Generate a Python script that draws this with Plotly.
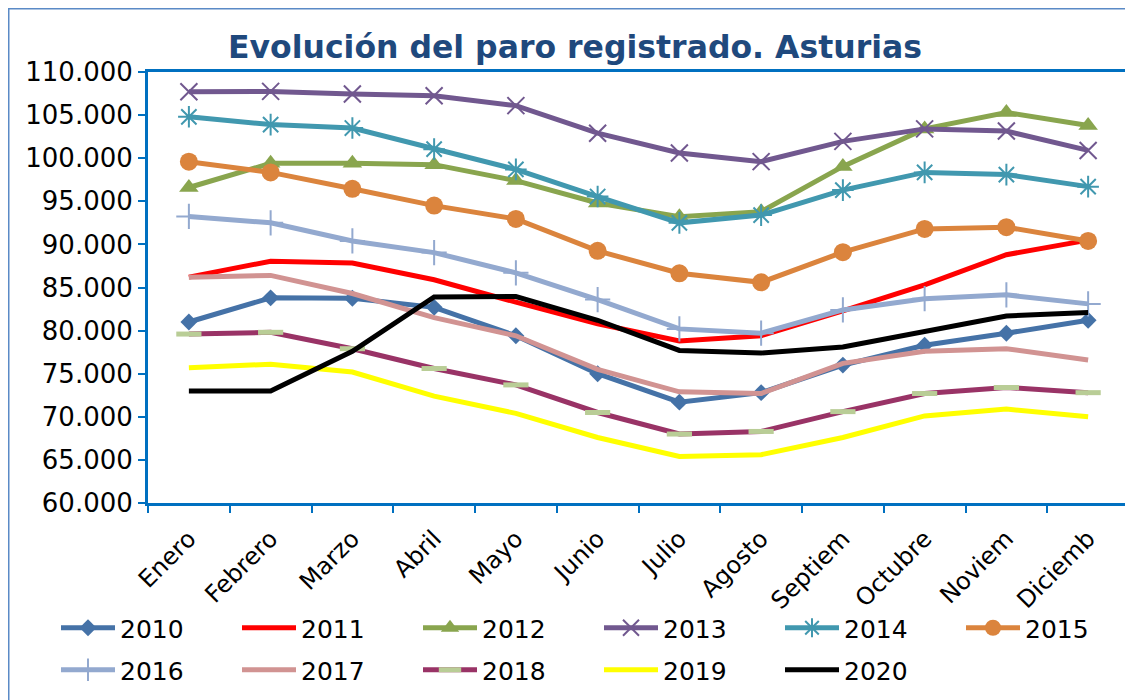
import plotly.graph_objects as go

months = ["Enero", "Febrero", "Marzo", "Abril", "Mayo", "Junio", "Julio",
          "Agosto", "Septiem", "Octubre", "Noviem", "Diciemb"]

v2010 = [81000, 83800, 83750, 82700, 79400, 75000, 71700, 72800, 76000, 78300, 79700, 81200]
v2011 = [86200, 88050, 87850, 85900, 83300, 80800, 78800, 79400, 82300, 85300, 88800, 90500]
v2012 = [96600, 99400, 99400, 99250, 97400, 94800, 93200, 93800, 99050, 103400, 105300, 103800]
v2013 = [107700, 107750, 107450, 107250, 106100, 102900, 100600, 99600, 101950, 103400, 103150, 100900]
v2014 = [104800, 103900, 103500, 101050, 98700, 95550, 92500, 93400, 96300, 98350, 98100, 96700]
v2015 = [99600, 98350, 96450, 94500, 92950, 89250, 86650, 85600, 89100, 91800, 92000, 90400]
v2016 = [93250, 92500, 90400, 89050, 86700, 83600, 80200, 79700, 82400, 83700, 84150, 83100]
v2017 = [86200, 86400, 84300, 81500, 79400, 75500, 72900, 72700, 76200, 77600, 77900, 76600]
v2018 = [79600, 79800, 77900, 75600, 73700, 70500, 68000, 68300, 70600, 72700, 73400, 72800]
v2019 = [75700, 76100, 75200, 72400, 70400, 67600, 65400, 65600, 67600, 70100, 70900, 70000]
v2020 = [73000, 73000, 77600, 83900, 83950, 81200, 77700, 77400, 78100, 79900, 81700, 82100]

years = ["2010", "2011", "2012", "2013", "2014", "2015",
         "2016", "2017", "2018", "2019", "2020"]
values = [v2010, v2011, v2012, v2013, v2014, v2015,
          v2016, v2017, v2018, v2019, v2020]

styles = {
    "2010": dict(color="#4572A7", symbol="diamond", size=13, mline=0, mcolor="#4572A7"),
    "2011": dict(color="#FF0000", symbol=None),
    "2012": dict(color="#89A54E", symbol="triangle-up", size=17, mline=0, mcolor="#89A54E"),
    "2013": dict(color="#71588F", symbol="x-thin", size=17, mline=2, mcolor="#71588F"),
    "2014": dict(color="#4198AF", symbol="asterisk", size=18, mline=2, mcolor="#4198AF"),
    "2015": dict(color="#DB843D", symbol="circle", size=18, mline=0, mcolor="#DB843D"),
    "2016": dict(color="#93A9CF", symbol="cross-thin", size=18, mline=2, mcolor="#93A9CF"),
    "2017": dict(color="#D19392", symbol=None),
    "2018": dict(color="#993366", symbol="line-ew", size=18, mline=5, mcolor="#B9CD96"),
    "2019": dict(color="#FFFF00", symbol=None),
    "2020": dict(color="#000000", symbol=None),
}

fig = go.Figure()
for i, (yr, vals) in enumerate(zip(years, values)):
    st = styles[yr]
    kw = dict(x=months, y=vals, name=yr,
              line=dict(color=st["color"], width=5),
              legend="legend" if i < 6 else "legend2")
    if st["symbol"]:
        kw["mode"] = "lines+markers"
        kw["marker"] = dict(symbol=st["symbol"], size=st["size"], color=st["mcolor"],
                            line=dict(width=st["mline"], color=st["mcolor"]))
    else:
        kw["mode"] = "lines"
    fig.add_trace(go.Scatter(**kw))

axis_blue = "#0070C0"
W, H = 1133, 700
# the page body adds an 8px offset; positions below are relative to the figure
L, R, T, B = 140, 12, 64, 205
pw, ph = W - L - R, H - T - B

def px_x(p):
    return (p - L) / pw

def px_y(p):
    return (H - B - p) / ph

legend_common = dict(orientation="h", xanchor="left", yanchor="middle",
                     entrywidth=112, entrywidthmode="pixels", itemwidth=54,
                     font=dict(size=25, family="DejaVu Sans", color="black"),
                     bgcolor="rgba(0,0,0,0)", tracegroupgap=0)

fig.update_layout(
    width=W, height=H,
    margin=dict(l=L, r=R, t=T, b=B, autoexpand=False),
    paper_bgcolor="white", plot_bgcolor="white",
    separators=",.",
    font=dict(family="DejaVu Sans", color="black"),
    title=dict(text="<b>Evolución del paro registrado. Asturias</b>",
               font=dict(family="DejaVu Sans", size=31.5, color="#1F497D"),
               x=567 / W, xref="container", xanchor="center",
               y=1 - 39 / H, yref="container", yanchor="middle"),
    xaxis=dict(type="category", range=[-0.5, 11.5], showgrid=False, zeroline=False,
               showline=True, linecolor=axis_blue, linewidth=3, mirror=True,
               ticks="outside", tickson="boundaries", ticklen=7, tickwidth=2,
               tickcolor=axis_blue, tickangle=-45, ticklabelstandoff=9,
               tickfont=dict(size=24, family="DejaVu Sans", color="black")),
    yaxis=dict(range=[60000, 110000], dtick=5000, tickformat=",d", showgrid=False,
               zeroline=False, showline=True, linecolor=axis_blue, linewidth=3,
               mirror=True, ticks="outside", ticklen=7, tickwidth=2, tickcolor=axis_blue,
               tickfont=dict(size=26, family="DejaVu Sans", color="black")),
    legend=dict(x=px_x(48), y=px_y(620), **legend_common),
    legend2=dict(x=px_x(48), y=px_y(662), **legend_common),
    showlegend=True,
    shapes=[dict(type="rect", xref="paper", yref="paper",
                 x0=px_x(0.75), x1=px_x(1160), y0=px_y(720), y1=px_y(0.75),
                 line=dict(color="#5A8AC6", width=1.5), layer="below")],
)

fig.write_html("out.html")
